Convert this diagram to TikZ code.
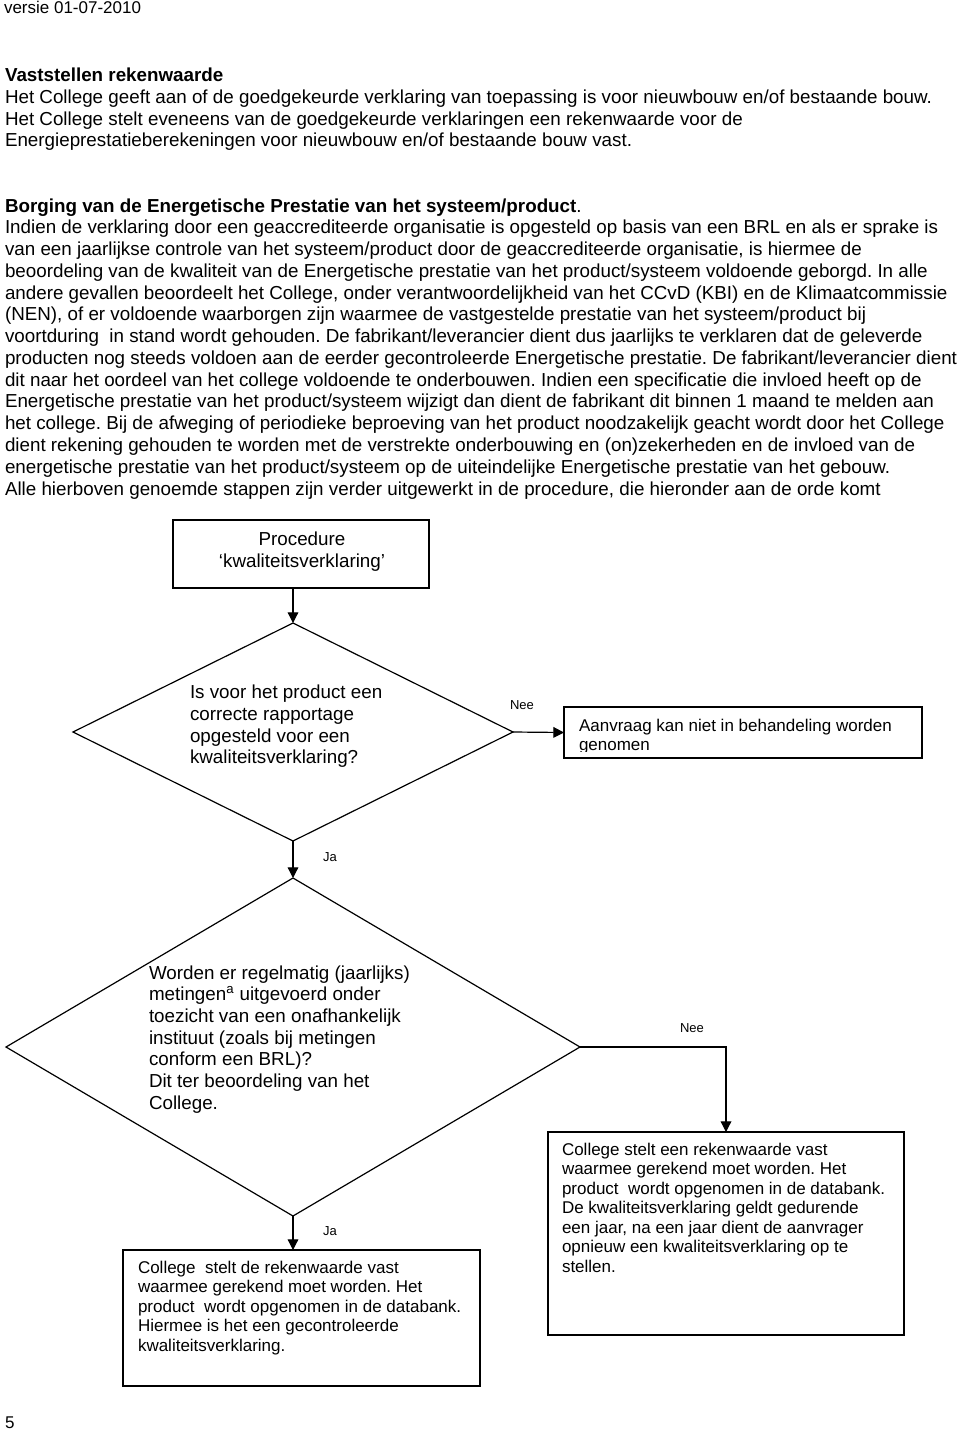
\documentclass[tikz,border=0pt]{standalone}
\usepackage{fontspec}
\setmainfont{Liberation Sans}
\usetikzlibrary{arrows.meta,shapes.geometric}
\frenchspacing
\begin{document}
\frenchspacing
\begin{tikzpicture}[x=0.75pt,y=-0.75pt,
  small/.style={anchor=base west, inner sep=0pt, outer sep=0pt, font=\fontsize{12.75pt}{15pt}\selectfont},
  body/.style={anchor=base west, inner sep=0pt, outer sep=0pt, font=\fontsize{14.1pt}{17pt}\selectfont},
  qtext/.style={anchor=base west, inner sep=0pt, outer sep=0pt, font=\fontsize{14.1pt}{17pt}\selectfont},
  qcent/.style={anchor=base, inner sep=0pt, outer sep=0pt, font=\fontsize{14.1pt}{17pt}\selectfont},
  lbl/.style={anchor=base, inner sep=0pt, outer sep=0pt, font=\fontsize{9.75pt}{12pt}\selectfont},
  box/.style={draw, line width=0.9pt, inner sep=0pt, outer sep=0pt},
  dia/.style={diamond, draw, line width=0.9pt, inner sep=0pt, outer sep=0pt},
  conn/.style={line width=0.9pt, -{Triangle[length=8pt,width=8pt]}}
]
\useasboundingbox[fill=white] (0,0) rectangle (960,1431);

% header
\node[small] (ver) at (4,13) {versie 01-07-2010};
\node[body] (h1) at (5,81.5) {\bfseries Vaststellen rekenwaarde};
\node[body] (a1) at (5,103.3) {Het College geeft aan of de goedgekeurde verklaring van toepassing is voor nieuwbouw en/of bestaande bouw.};
\node[body] (a2) at (5,125) {Het College stelt eveneens van de goedgekeurde verklaringen een rekenwaarde voor de};
\node[body] (a3) at (5,146.7) {Energieprestatieberekeningen voor nieuwbouw en/of bestaande bouw vast.};

% paragraph
\node[body] (h2) at (5,212) {\textbf{Borging van de Energetische Prestatie van het systeem/product}.};
\node[body] (p1) at (5,233.8) {Indien de verklaring door een geaccrediteerde organisatie is opgesteld op basis van een BRL en als er sprake is};
\node[body] (p2) at (5,255.5) {van een jaarlijkse controle van het systeem/product door de geaccrediteerde organisatie, is hiermee de};
\node[body] (p3) at (5,277.3) {beoordeling van de kwaliteit van de Energetische prestatie van het product/systeem voldoende geborgd. In alle};
\node[body] (p4) at (5,299.1) {andere gevallen beoordeelt het College, onder verantwoordelijkheid van het CCvD (KBI) en de Klimaatcommissie};
\node[body] (p5) at (5,320.9) {(NEN), of er voldoende waarborgen zijn waarmee de vastgestelde prestatie van het systeem/product bij};
\node[body] (p6) at (5,342.6) {voortduring\ \ in stand wordt gehouden. De fabrikant/leverancier dient dus jaarlijks te verklaren dat de geleverde};
\node[body] (p7) at (5,364.4) {producten nog steeds voldoen aan de eerder gecontroleerde Energetische prestatie. De fabrikant/leverancier dient};
\node[body] (p8) at (5,386.2) {dit naar het oordeel van het college voldoende te onderbouwen. Indien een specificatie die invloed heeft op de};
\node[body] (p9) at (5,407.9) {Energetische prestatie van het product/systeem wijzigt dan dient de fabrikant dit binnen 1 maand te melden aan};
\node[body] (p10) at (5,429.7) {het college. Bij de afweging of periodieke beproeving van het product noodzakelijk geacht wordt door het College};
\node[body] (p11) at (5,451.5) {dient rekening gehouden te worden met de verstrekte onderbouwing en (on)zekerheden en de invloed van de};
\node[body] (p12) at (5,473.2) {energetische prestatie van het product/systeem op de uiteindelijke Energetische prestatie van het gebouw.};
\node[body] (p13) at (5,495) {Alle hierboven genoemde stappen zijn verder uitgewerkt in de procedure, die hieronder aan de orde komt};

% flowchart shapes
\node[box, minimum width=192pt, minimum height=51pt] (proc) at (301,554) {};
\node[qcent] (pr1) at (302,545) {Procedure};
\node[qcent] (pr2) at (302,567) {`kwaliteitsverklaring'};

\node[dia, minimum width=330pt, minimum height=163.5pt] (d1) at (293,732) {};
\node[qtext] (q1) at (190,698) {Is voor het product een};
\node[qtext] (q2) at (190,720) {correcte rapportage};
\node[qtext] (q3) at (190,742) {opgesteld voor een};
\node[qtext] (q4) at (190,763.5) {kwaliteitsverklaring?};

\node[box, minimum width=268.5pt, minimum height=38.25pt] (aan) at (743,732.5) {};
\begin{scope}
\clip (566,709) rectangle (920,751);
\node[small] (an1) at (579,731) {Aanvraag kan niet in behandeling worden};
\node[small] (an2) at (579,750.5) {genomen};
\end{scope}

\node[dia, minimum width=430.5pt, minimum height=253.5pt] (d2) at (293,1047) {};
\node[qtext] (w1) at (149,979) {Worden er regelmatig (jaarlijks)};
\node[qtext] (w2) at (149,1000.7) {metingen\textsuperscript{a} uitgevoerd onder};
\node[qtext] (w3) at (149,1022.3) {toezicht van een onafhankelijk};
\node[qtext] (w4) at (149,1044) {instituut (zoals bij metingen};
\node[qtext] (w5) at (149,1065.7) {conform een BRL)?};
\node[qtext] (w6) at (149,1087.3) {Dit ter beoordeling van het};
\node[qtext] (w7) at (149,1109) {College.};

\node[box, minimum width=267pt, minimum height=152.25pt] (rb) at (726,1233.5) {};
\node[small] (r1) at (562,1155) {College stelt een rekenwaarde vast};
\node[small] (r2) at (562,1174.5) {waarmee gerekend moet worden. Het};
\node[small] (r3) at (562,1194) {product\ \ wordt opgenomen in de databank.};
\node[small] (r4) at (562,1213.5) {De kwaliteitsverklaring geldt gedurende};
\node[small] (r5) at (562,1233) {een jaar, na een jaar dient de aanvrager};
\node[small] (r6) at (562,1252.5) {opnieuw een kwaliteitsverklaring op te};
\node[small] (r7) at (562,1272) {stellen.};

\node[box, minimum width=267.75pt, minimum height=102pt] (bb) at (301.5,1318) {};
\node[small] (b1) at (138,1273) {College\ \ stelt de rekenwaarde vast};
\node[small] (b2) at (138,1292.5) {waarmee gerekend moet worden. Het};
\node[small] (b3) at (138,1312) {product\ \ wordt opgenomen in de databank.};
\node[small] (b4) at (138,1331.5) {Hiermee is het een gecontroleerde};
\node[small] (b5) at (138,1351) {kwaliteitsverklaring.};

% connectors
\draw[conn] (proc.south -| d1.north) -- (d1.north);
\draw[conn] (d1.east) -- (aan.west);
\draw[conn] (d1.south) -- (d2.north);
\draw[conn] (d2.east) -| (rb.north);
\draw[conn] (d2.south) -- (d2.south |- bb.north);

% labels
\node[lbl] (nee1) at (522,709) {Nee};
\node[lbl] (ja1) at (330,861) {Ja};
\node[lbl] (nee2) at (692,1032) {Nee};
\node[lbl] (ja2) at (330,1235) {Ja};

% page number
\node[small] (pg) at (5,1428) {5};
\end{tikzpicture}
\end{document}
